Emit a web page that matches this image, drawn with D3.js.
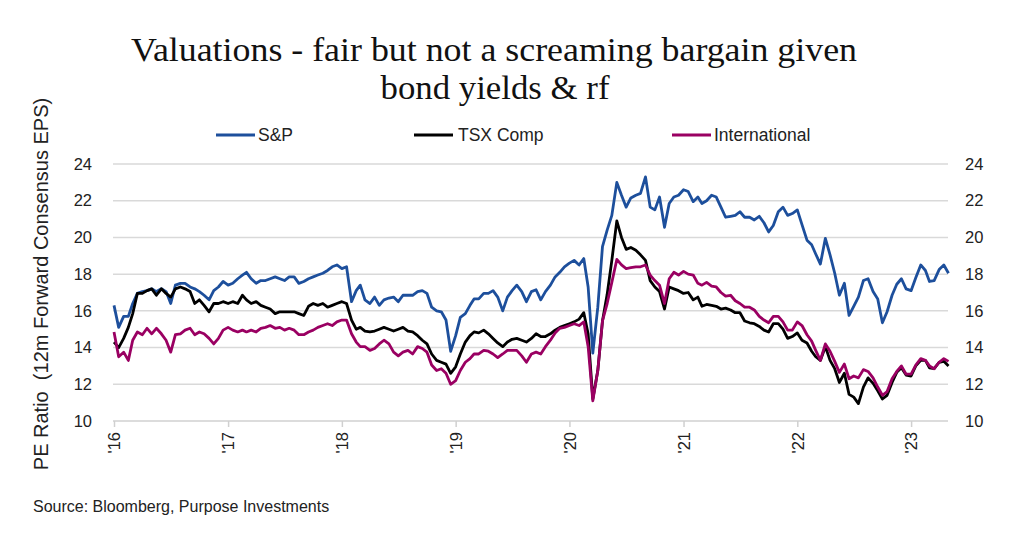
<!DOCTYPE html>
<html><head><meta charset="utf-8">
<script src="https://cdn.jsdelivr.net/npm/d3@7"></script>
<style>body{margin:0;background:#fff}svg{display:block}</style>
</head><body>
<svg id="c" width="1024" height="555"></svg>
<script>
// Semi-monthly observation dates (1st and 16th of each month), Jan 2016 – May 2023
const startYear = 2016, nPoints = 177;
const dates = d3.range(nPoints).map(i => new Date(startYear + Math.floor(i / 24), Math.floor((i % 24) / 2), (i % 2) ? 16 : 1));

const spx = [16.3,15.1,15.7,15.7,16.4,16.95,17.05,17.1,17.2,17.05,17.2,17.05,16.4,17.4,17.5,17.5,17.3,17.2,17.05,16.85,16.6,17.1,17.3,17.6,
17.4,17.5,17.75,17.95,18.1,17.75,17.5,17.65,17.65,17.75,17.85,17.75,17.65,17.85,17.85,17.5,17.6,17.75,17.85,17.95,18.05,18.2,18.4,18.5,
18.3,18.4,16.5,17.1,17.4,16.6,16.4,16.75,16.3,16.6,16.7,16.75,16.5,16.85,16.85,16.85,17.05,17.1,16.95,16.2,16.0,15.95,15.5,13.8,
14.65,15.65,15.85,16.3,16.65,16.65,16.95,16.95,17.1,16.75,16.0,16.75,17.1,17.4,17.05,16.5,17.05,17.15,16.6,17.05,17.4,17.85,18.1,18.4,
18.6,18.75,18.5,18.85,17.3,13.7,16.2,19.5,20.4,21.2,23.0,22.3,21.65,22.15,22.3,22.4,23.3,21.65,21.5,22.2,20.55,21.85,22.2,22.3,
22.6,22.5,21.95,22.2,21.85,22.0,22.3,22.2,21.65,21.1,21.15,21.2,21.4,21.1,21.1,20.95,21.15,20.8,20.3,20.65,21.4,21.65,21.2,21.3,
21.5,20.7,19.85,19.6,19.1,18.55,19.95,19.05,18.05,16.85,17.5,15.75,16.25,16.75,17.65,17.75,17.05,16.65,15.35,15.95,16.85,17.45,17.75,17.2,
17.1,17.8,18.5,18.2,17.6,17.65,18.25,18.5,18.05];

const tsx = [14.3,14.0,14.5,15.1,15.85,16.95,16.95,17.1,17.2,16.85,17.2,16.95,16.75,17.2,17.3,17.2,17.05,16.4,16.6,16.3,15.95,16.4,16.4,16.5,
16.4,16.5,16.4,16.85,16.6,16.4,16.5,16.3,16.2,16.1,15.85,15.95,15.95,15.95,15.95,15.85,15.75,16.25,16.4,16.3,16.4,16.2,16.3,16.4,
16.5,16.4,15.5,15.0,15.1,14.9,14.85,14.9,15.0,15.1,15.0,14.9,15.0,15.1,14.9,14.85,14.65,14.4,14.2,13.65,13.3,13.2,13.1,12.6,
12.95,13.65,14.3,14.65,14.85,14.8,14.95,14.75,14.5,14.25,14.05,14.3,14.45,14.5,14.4,14.3,14.5,14.75,14.6,14.6,14.75,14.95,15.1,15.2,
15.3,15.4,15.55,15.9,14.75,11.2,12.75,15.45,16.9,18.75,20.9,20.0,19.35,19.45,19.3,19.05,18.75,17.65,17.3,17.05,16.1,17.3,17.2,17.1,
16.95,17.0,16.6,16.75,16.25,16.35,16.3,16.25,16.1,16.15,16.05,15.9,15.9,15.45,15.35,15.3,15.15,14.95,14.85,15.3,15.3,15.0,14.5,14.6,
14.8,14.4,14.25,13.8,13.5,13.3,14.05,13.3,12.85,12.1,12.6,11.45,11.3,10.95,11.85,12.35,12.05,11.65,11.2,11.4,12.1,12.65,12.9,12.5,
12.45,13.0,13.3,13.3,12.9,12.85,13.2,13.25,13.0];

const intl = [14.85,13.5,13.75,13.3,14.4,14.85,14.7,15.05,14.75,15.05,14.75,14.4,13.75,14.7,14.75,14.95,15.05,14.7,14.85,14.75,14.5,14.2,14.5,14.95,
15.1,14.95,14.85,14.95,14.85,14.95,14.85,15.05,15.1,15.2,15.05,15.1,14.95,15.05,14.95,14.7,14.7,14.85,14.95,15.1,15.2,15.3,15.2,15.4,
15.5,15.5,14.75,14.3,14.05,14.05,13.85,13.95,14.2,14.4,14.2,13.75,13.55,13.75,13.85,13.65,14.05,13.95,13.75,13.05,12.75,12.85,12.6,12.0,
12.2,12.75,13.2,13.4,13.65,13.65,13.85,13.8,13.65,13.45,13.65,13.85,13.85,13.85,13.55,13.2,13.65,13.75,13.65,14.05,14.4,14.8,15.05,15.1,
15.2,15.3,15.2,15.4,14.05,11.1,12.75,15.45,16.4,17.55,18.8,18.5,18.3,18.35,18.4,18.4,18.5,17.95,17.65,17.4,16.4,17.75,18.1,17.95,
18.15,18.0,17.95,17.5,17.4,17.55,17.35,17.3,17.0,16.8,16.85,16.55,16.4,16.2,16.2,16.05,15.7,15.5,15.35,15.7,15.7,15.4,14.95,14.95,
15.4,15.2,14.7,14.35,13.85,13.3,14.2,13.8,13.25,12.65,13.1,12.3,12.45,12.35,12.8,12.7,12.35,11.85,11.4,11.6,12.3,12.7,13.0,12.55,
12.55,13.05,13.4,13.3,13.0,12.85,13.2,13.4,13.25];

const seriesNames = ["S&P", "TSX Comp", "International"];
const seriesColors = ["#1d4f9c", "#000000", "#9a0062"];
const yTicks = [10, 12, 14, 16, 18, 20, 22, 24];
const xTickYears = [2016, 2017, 2018, 2019, 2020, 2021, 2022, 2023];
const xTickLabels = ["'16", "'17", "'18", "'19", "'20", "'21", "'22", "'23"];
const titleLines = ["Valuations - fair but not a screaming bargain given", "bond yields & rf"];
const yTitle = "PE Ratio  (12m Forward Consensus EPS)";
const sourceText = "Source: Bloomberg, Purpose Investments";

const svg = d3.select("#c");
const plotL = 113, plotR = 948;
const x = d3.scaleTime().domain([new Date(2016, 0, 1), new Date(2023, 4, 1)]).range([114, 948.5]);
const y = d3.scaleLinear().domain([10, 24]).range([421, 164]);
const sans = "'Liberation Sans', Arial, sans-serif";

// gridlines
svg.append("g").selectAll("line").data(yTicks.filter(v => v > 10)).join("line")
  .attr("x1", plotL).attr("x2", plotR).attr("y1", d => y(d)).attr("y2", d => y(d))
  .attr("stroke", "#d9d9d9").attr("stroke-width", 1.5);

// x axis
const xAxis = d3.axisBottom(x).tickValues(xTickYears.map(yr => new Date(yr, 0, 1)))
  .tickSize(6).tickFormat((d, i) => xTickLabels[i]);
const gx = svg.append("g").attr("transform", `translate(0,${y(10)})`).call(xAxis);
gx.select(".domain").attr("d", `M${plotL},0H${plotR}`).attr("stroke", "#d0d0d0").attr("stroke-width", 1.5);
gx.selectAll(".tick line").attr("stroke", "#d0d0d0").attr("stroke-width", 1.5);
gx.selectAll(".tick text").attr("font-family", sans).attr("font-size", 16.5).attr("fill", "#222")
  .attr("transform", "rotate(-90)").attr("text-anchor", "end").attr("x", -11).attr("y", 0).attr("dy", "0.35em");

// y axes
const yl = svg.append("g").attr("transform", `translate(${92},0)`)
  .call(d3.axisLeft(y).tickValues(yTicks).tickSize(0).tickPadding(0));
const yr = svg.append("g").attr("transform", `translate(${965},0)`)
  .call(d3.axisRight(y).tickValues(yTicks).tickSize(0).tickPadding(0));
[yl, yr].forEach(g => {
  g.select(".domain").remove();
  g.selectAll("text").attr("font-family", sans).attr("font-size", 16.5).attr("fill", "#222");
});

// lines
const line = d3.line().x((d, i) => x(dates[i])).y(d => y(d)).curve(d3.curveLinear);
[spx, tsx, intl].forEach((s, k) => {
  svg.append("path").datum(s).attr("d", line).attr("fill", "none")
    .attr("stroke", seriesColors[k]).attr("stroke-width", 2.8).attr("stroke-linejoin", "round");
});

// title
const titleFont = "'Liberation Serif', 'Times New Roman', serif";
svg.append("text").attr("x", 494).attr("y", 61).attr("text-anchor", "middle")
  .attr("font-family", titleFont).attr("font-size", 34).attr("fill", "#111")
  .attr("textLength", 726).attr("lengthAdjust", "spacingAndGlyphs").text(titleLines[0]);
svg.append("text").attr("x", 495).attr("y", 99).attr("text-anchor", "middle")
  .attr("font-family", titleFont).attr("font-size", 34).attr("fill", "#111")
  .attr("textLength", 229).attr("lengthAdjust", "spacingAndGlyphs").text(titleLines[1]);

// legend
const legX = [216, 414, 672];
const lg = svg.append("g");
seriesNames.forEach((n, k) => {
  lg.append("line").attr("x1", legX[k]).attr("x2", legX[k] + 39).attr("y1", 135).attr("y2", 135)
    .attr("stroke", seriesColors[k]).attr("stroke-width", 3);
  lg.append("text").attr("x", legX[k] + (k === 1 ? 44 : 42)).attr("y", 141).attr("font-family", sans)
    .attr("font-size", 17.5).attr("fill", "#222").text(n);
});

// y title
svg.append("text").attr("transform", "translate(48,284) rotate(-90)").attr("text-anchor", "middle")
  .attr("font-family", sans).attr("font-size", 20).attr("fill", "#222")
  .style("white-space", "pre").text(yTitle);

// source
svg.append("text").attr("x", 33).attr("y", 512).attr("font-family", sans).attr("font-size", 16)
  .attr("fill", "#222").text(sourceText);
</script>
</body></html>
